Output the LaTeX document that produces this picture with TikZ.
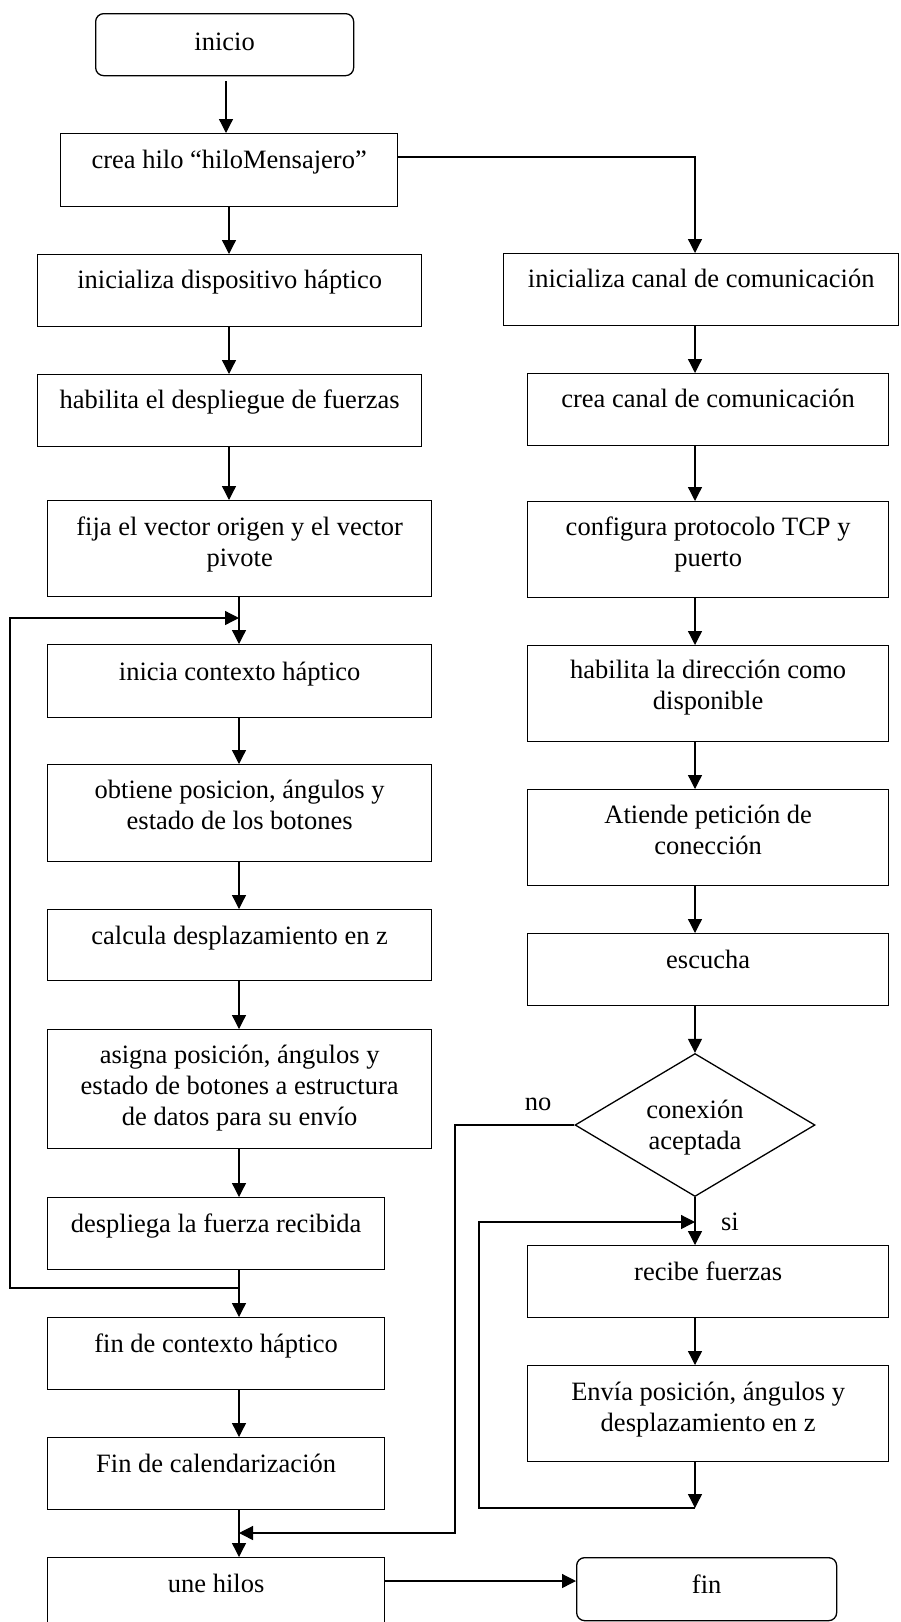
\documentclass[tikz,border=0pt]{standalone}
\usepackage{fontspec}
\setmainfont{Liberation Serif}
\usetikzlibrary{shapes.geometric,arrows.meta}
\begin{document}
\begin{tikzpicture}[x=1pt,y=-1pt,
  box/.style={draw,line width=1.3pt,rectangle,anchor=north west,inner sep=0pt},
  term/.style={box,rounded corners=8pt},
  % multi-line labels sit on the baseline of their last line
  txt/.style={anchor=base,align=center,inner sep=0pt,font=\fontsize{26.5}{31}\selectfont},
  flow/.style={line width=1.3pt,-{Triangle[length=14pt,width=14pt]}},
  wire/.style={line width=1.3pt}]

\useasboundingbox[fill=white] (0,0) rectangle (900,1622);

% column guides for the vertical connectors
\coordinate (colA) at (226,0);
\coordinate (colU) at (229,0);
\coordinate (colL) at (239,0);
\coordinate (colR) at (695,0);
\coordinate (forkY) at (0,157);
\coordinate (finY) at (0,1581);

% ---------------- left thread ----------------
\node[term,minimum width=258pt,minimum height=62pt] (inicio) at (95,13) {};
\node[txt] (tInicio) at ([yshift=-37pt]inicio.north) {inicio};

\node[box,minimum width=337pt,minimum height=73pt] (creaHilo) at (60,133) {};
\node[txt] (tCreaHilo) at ([yshift=-35pt]creaHilo.north) {crea hilo “hiloMensajero”};

\node[box,minimum width=384pt,minimum height=72pt] (iniDisp) at (37,254) {};
\node[txt] (tIniDisp) at ([yshift=-34pt]iniDisp.north) {inicializa dispositivo háptico};

\node[box,minimum width=384pt,minimum height=72pt] (habF) at (37,374) {};
\node[txt] (tHabF) at ([yshift=-34pt]habF.north) {habilita el despliegue de fuerzas};

\node[box,minimum width=384pt,minimum height=96pt] (fija) at (47,500) {};
\node[txt] (tFija) at ([yshift=-66pt]fija.north) {fija el vector origen y el vector\\pivote};

\node[box,minimum width=384pt,minimum height=73pt] (inicia) at (47,644) {};
\node[txt] (tInicia) at ([yshift=-36pt]inicia.north) {inicia contexto háptico};

\node[box,minimum width=384pt,minimum height=97pt] (obtiene) at (47,764) {};
\node[txt] (tObtiene) at ([yshift=-65pt]obtiene.north) {obtiene posicion, ángulos y\\estado de los botones};

\node[box,minimum width=384pt,minimum height=71pt] (calcula) at (47,909) {};
\node[txt] (tCalcula) at ([yshift=-35pt]calcula.north) {calcula desplazamiento en z};

\node[box,minimum width=384pt,minimum height=119pt] (asigna) at (47,1029) {};
\node[txt] (tAsigna) at ([yshift=-96pt]asigna.north) {asigna posición, ángulos y\\estado de botones a estructura\\de datos para su envío};

\node[box,minimum width=337pt,minimum height=72pt] (despliega) at (47,1197) {};
\node[txt] (tDespliega) at ([yshift=-35pt]despliega.north) {despliega la fuerza recibida};

\node[box,minimum width=337pt,minimum height=72pt] (finCtx) at (47,1317) {};
\node[txt] (tFinCtx) at ([yshift=-35pt]finCtx.north) {fin de contexto háptico};

\node[box,minimum width=337pt,minimum height=72pt] (finCal) at (47,1437) {};
\node[txt] (tFinCal) at ([yshift=-35pt]finCal.north) {Fin de calendarización};

\node[box,minimum width=337pt,minimum height=72pt] (une) at (47,1557) {};
\node[txt] (tUne) at ([yshift=-35pt]une.north) {une hilos};

\node[term,minimum width=260pt,minimum height=63pt] (fin) at (576,1557) {};
\node[txt] (tFin) at ([yshift=-36pt]fin.north) {fin};

% ---------------- messenger thread ----------------
\node[box,minimum width=395pt,minimum height=72pt] (iniCanal) at (503,253) {};
\node[txt] (tIniCanal) at ([yshift=-34pt]iniCanal.north) {inicializa canal de comunicación};

\node[box,minimum width=361pt,minimum height=72pt] (creaCanal) at (527,373) {};
\node[txt] (tCreaCanal) at ([yshift=-34pt]creaCanal.north) {crea canal de comunicación};

\node[box,minimum width=361pt,minimum height=96pt] (config) at (527,501) {};
\node[txt] (tConfig) at ([yshift=-65pt]config.north) {configura protocolo TCP y\\puerto};

\node[box,minimum width=361pt,minimum height=96pt] (habDir) at (527,645) {};
\node[txt] (tHabDir) at ([yshift=-64pt]habDir.north) {habilita la dirección como\\disponible};

\node[box,minimum width=361pt,minimum height=96pt] (atiende) at (527,789) {};
\node[txt] (tAtiende) at ([yshift=-65pt]atiende.north) {Atiende petición de\\conección};

\node[box,minimum width=361pt,minimum height=72pt] (escucha) at (527,933) {};
\node[txt] (tEscucha) at ([yshift=-35pt]escucha.north) {escucha};

\node[diamond,draw,line width=1.3pt,inner sep=0pt,minimum width=240pt,minimum height=143pt] (dec) at (695,1125) {};
\node[txt] (tDec) at (695,1149) {conexión\\aceptada};
\node[txt] (lNo) at (538,1110) {no};
\node[txt] (lSi) at (730,1230) {si};

\node[box,minimum width=361pt,minimum height=72pt] (recibe) at (527,1245) {};
\node[txt] (tRecibe) at ([yshift=-35pt]recibe.north) {recibe fuerzas};

\node[box,minimum width=361pt,minimum height=96pt] (envia) at (527,1365) {};
\node[txt] (tEnvia) at ([yshift=-66pt]envia.north) {Envía posición, ángulos y\\desplazamiento en z};

% junction points of the loops
\coordinate (loopOut) at (239,1288);
\coordinate (loopIn) at (239,618);
\coordinate (joinIn) at (239,1533);
\coordinate (sendOut) at (695,1508);
\coordinate (recvIn) at (695,1222);

% ---------------- connectors: left thread ----------------
\draw[flow,shorten <=5pt] (inicio.south -| colA) -- (creaHilo.north -| colA);
\draw[flow] (creaHilo.south -| colU) -- (iniDisp.north -| colU);
\draw[flow] (iniDisp.south -| colU) -- (habF.north -| colU);
\draw[flow] (habF.south -| colU) -- (fija.north -| colU);
\draw[flow] (fija.south -| colL) -- (inicia.north -| colL);
\draw[flow] (inicia.south -| colL) -- (obtiene.north -| colL);
\draw[flow] (obtiene.south -| colL) -- (calcula.north -| colL);
\draw[flow] (calcula.south -| colL) -- (asigna.north -| colL);
\draw[flow] (asigna.south -| colL) -- (despliega.north -| colL);
\draw[flow] (despliega.south -| colL) -- (finCtx.north -| colL);
\draw[flow] (finCtx.south -| colL) -- (finCal.north -| colL);
\draw[flow] (finCal.south -| colL) -- (une.north -| colL);
\draw[flow] (loopOut) -- (10,1288) -- (10,618) -- (loopIn);
\draw[flow] (une.east |- finY) -- (fin.west |- finY);

% ---------------- connectors: messenger thread ----------------
\draw[flow] (creaHilo.east |- forkY) -| (iniCanal.north -| colR);
\draw[flow] (iniCanal.south -| colR) -- (creaCanal.north -| colR);
\draw[flow] (creaCanal.south -| colR) -- (config.north -| colR);
\draw[flow] (config.south -| colR) -- (habDir.north -| colR);
\draw[flow] (habDir.south -| colR) -- (atiende.north -| colR);
\draw[flow] (atiende.south -| colR) -- (escucha.north -| colR);
\draw[flow] (escucha.south -| colR) -- (dec.north);
\draw[flow] (dec.south) -- (recibe.north -| colR);
\draw[flow] (recibe.south -| colR) -- (envia.north -| colR);
\draw[flow] (envia.south -| colR) -- (sendOut);
\draw[flow] (sendOut) -- (479,1508) -- (479,1222) -- (recvIn);
\draw[flow] (dec.west) -- (455,1125) -- (455,1533) -- (joinIn);
\end{tikzpicture}
\end{document}
